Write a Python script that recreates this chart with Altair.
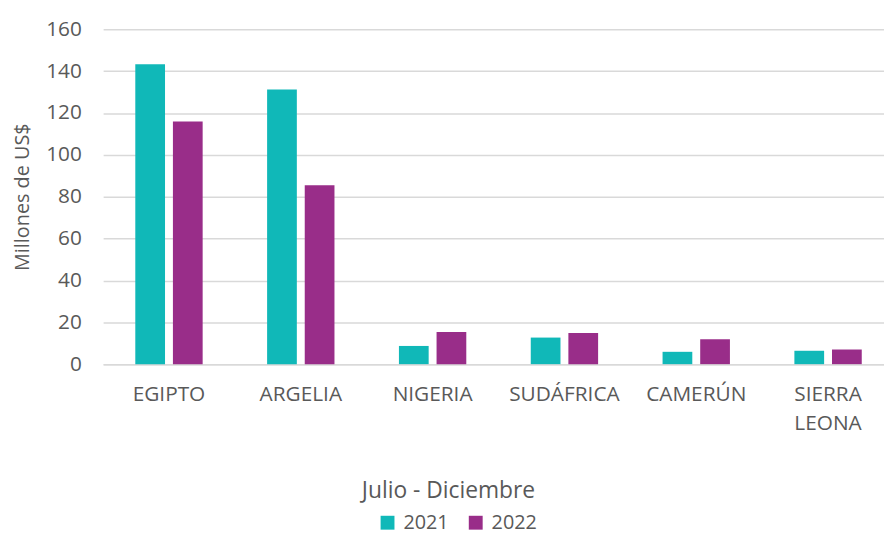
import altair as alt
import pandas as pd

countries = ["EGIPTO", "ARGELIA", "NIGERIA", "SUDÁFRICA", "CAMERÚN", "SIERRA LEONA"]
v2021 = [143.3, 131.2, 8.7, 12.7, 5.9, 6.4]
v2022 = [115.9, 85.5, 15.4, 14.9, 11.9, 7.0]
years = ["2021", "2022"]
colors = ["#10B8B8", "#992D89"]
y_ticks = [0, 20, 40, 60, 80, 100, 120, 140, 160]

rows = []
for c, a, b in zip(countries, v2021, v2022):
    rows.append({"pais": c, "anio": "2021", "valor": a})
    rows.append({"pais": c, "anio": "2022", "valor": b})
df = pd.DataFrame(rows)

FONT = "Open Sans"
GRAY = "#595959"
GRID = "#D9D9D9"

chart = alt.Chart(df).mark_bar().encode(
    x=alt.X(
        "pais:N",
        sort=countries,
        scale=alt.Scale(range=[0, 798], paddingInner=0.489, paddingOuter=0.244),
        axis=alt.Axis(
            title="Julio - Diciembre",
            titleFontSize=23,
            labelAngle=0,
            labelExpr="split(datum.label, ' ')",
            labelLineHeight=29,
            labelPadding=20,
            labelBaseline="top",
            ticks=False,
            tickSize=0,
            domain=True,
            domainColor=GRID,
            domainWidth=1.5,
            titleX=348,
            titleY=128,
            titleBaseline="middle",
        ),
    ),
    xOffset=alt.XOffset("anio:N", sort=years, scale=alt.Scale(paddingInner=0.21, paddingOuter=0)),
    y=alt.Y(
        "valor:Q",
        scale=alt.Scale(domain=[0, 160], nice=False),
        axis=alt.Axis(
            values=y_ticks,
            title="Millones de US$",
            titleFontSize=20,
            ticks=False,
            tickSize=0,
            domain=False,
            labelPadding=22,
            grid=True,
            gridColor=GRID,
            gridWidth=1.5,
            titleX=-81,
            titleY=169,
            titleBaseline="middle",
        ),
    ),
    color=alt.Color(
        "anio:N",
        scale=alt.Scale(domain=years, range=colors),
        legend=alt.Legend(
            title=None,
            orient="none",
            legendX=277,
            legendY=488,
            direction="horizontal",
            symbolType="square",
            symbolSize=196,
            symbolStrokeWidth=0,
            labelOffset=6,
            columnPadding=17,
            labelFont=FONT,
            labelFontSize=20,
            labelColor=GRAY,
            padding=0,
        ),
    ),
).properties(
    width=788,
    height=338,
    autosize=alt.AutoSizeParams(type="none"),
    padding={"left": 96, "top": 19, "right": 0, "bottom": 172},
).configure_view(
    stroke=None
).configure_axis(
    labelFont=FONT,
    labelFontSize=21,
    labelColor=GRAY,
    titleFont=FONT,
    titleColor=GRAY,
    titleFontWeight="normal",
).configure_legend(
    labelFont=FONT
)

chart.save("out.html", embed_options={"renderer": "svg", "actions": False})
